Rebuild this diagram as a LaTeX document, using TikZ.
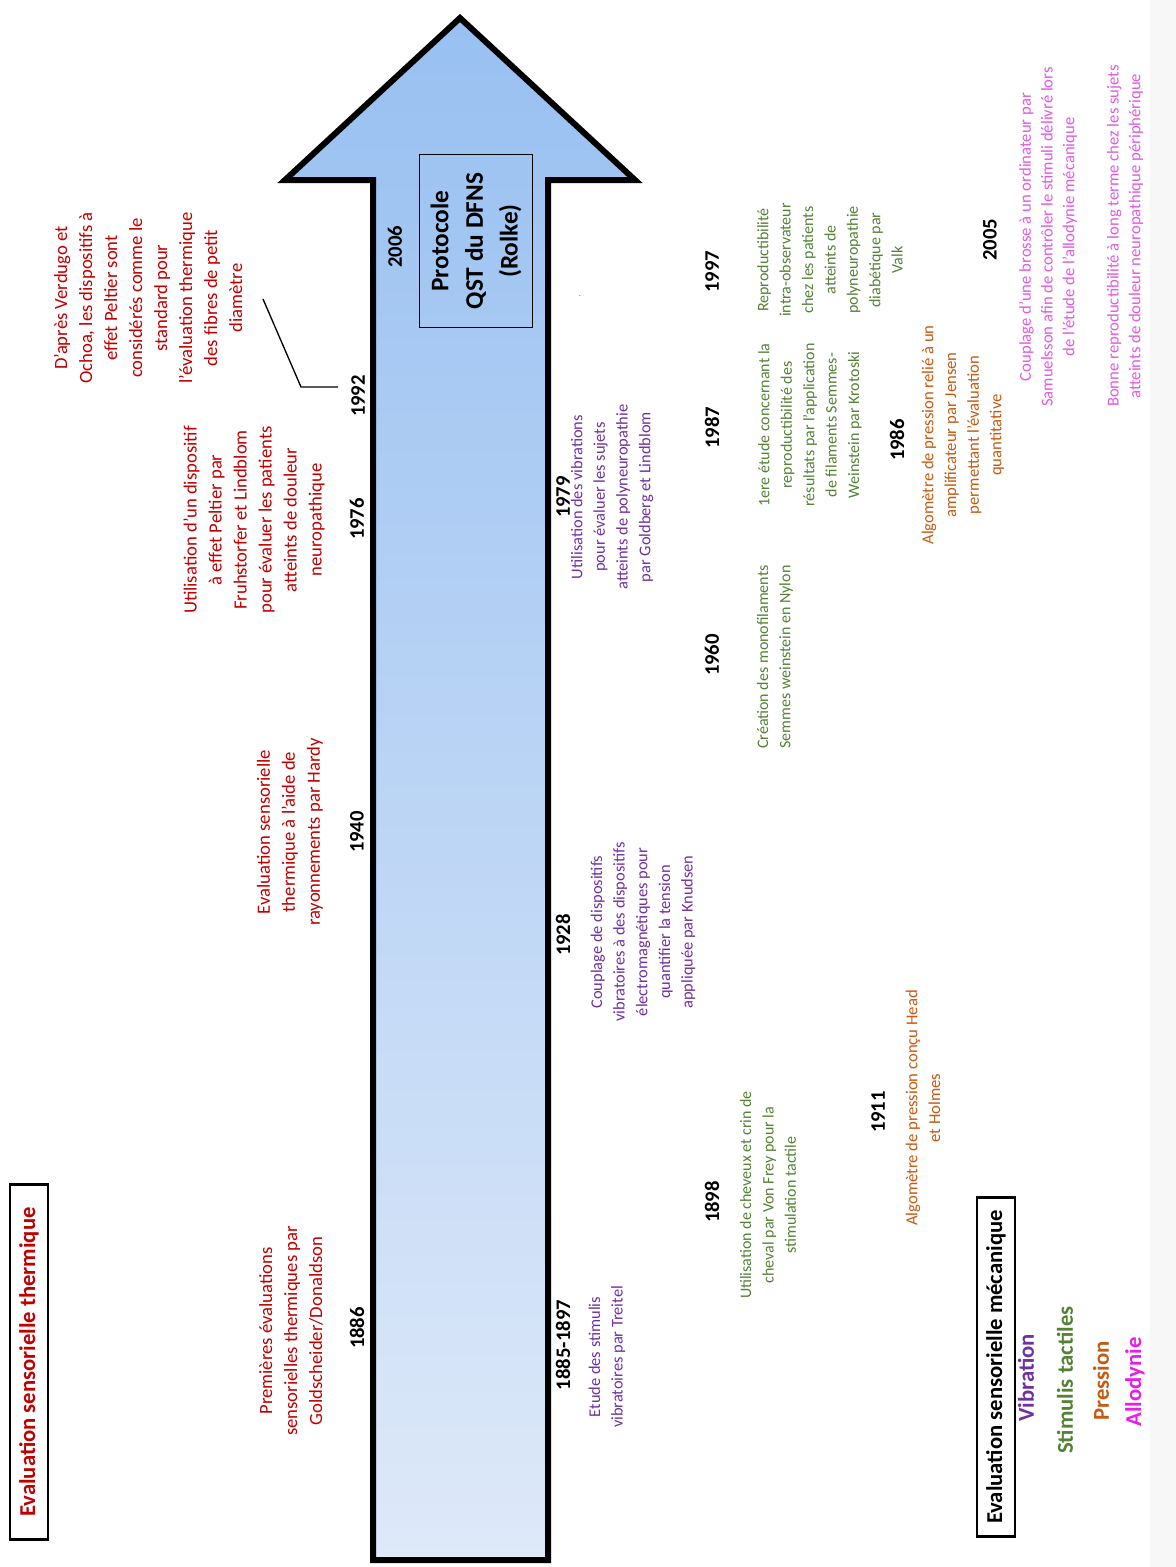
\documentclass[tikz,border=0pt]{standalone}
\usepackage{fontspec}
\setmainfont{Carlito}
\usepackage{xcolor}
\definecolor{thermred}{RGB}{192,0,0}
\definecolor{vibpurple}{RGB}{112,48,160}
\definecolor{tactgreen}{RGB}{84,130,53}
\definecolor{pressorange}{RGB}{197,90,17}
\definecolor{allomag}{RGB}{226,90,226}
\definecolor{allolegend}{RGB}{230,30,230}
\definecolor{arrtop}{RGB}{152,192,241}
\definecolor{arrbot}{RGB}{222,233,249}

\begin{document}
\begin{tikzpicture}[x=0.75pt,y=-0.75pt,
  yr/.style={rotate=90,inner sep=0pt,font=\fontsize{15.5}{18}\selectfont\bfseries},
  desc/.style={rotate=90,align=center,inner sep=0pt},
  thermtxt/.style={desc,text=thermred,font=\fontsize{14}{18.75}\selectfont},
  vibtxt/.style={desc,text=vibpurple,font=\fontsize{12.3}{17}\selectfont},
  tacttxt/.style={desc,text=tactgreen,font=\fontsize{12}{16.8}\selectfont},
  presstxt/.style={desc,text=pressorange,font=\fontsize{12.5}{17}\selectfont},
  allotxt/.style={desc,text=allomag,font=\fontsize{12.5}{16.3}\selectfont},
  titlebox/.style={draw,line width=1.8pt,rotate=90,inner sep=0pt,minimum height=28.5pt,font=\fontsize{17}{20}\selectfont\bfseries},
  legend/.style={rotate=90,inner sep=0pt,font=\fontsize{17}{20}\selectfont\bfseries}]
\useasboundingbox (0,0) rectangle (1176,1567);
\fill[white] (0,0) rectangle (1176,1567);
\fill[black!3] (1150,0) rectangle (1176,1567);

% Fleche du temps
\draw[line width=4.5pt,top color=arrtop,bottom color=arrbot]
  (373,1560) -- (373,180) -- (285,180) -- (460,18) -- (635,180)
  -- (548,180) -- (548,1560) -- cycle;
\node[draw,line width=1pt,rotate=90,align=center,minimum width=130pt,minimum height=85pt,
  font=\fontsize{19}{26}\selectfont\bfseries] (qst) at (476,241) {Protocole\\QST du DFNS\\(Rolke)};
\node[font=\tiny] (pt) at (580,296) {.};

% Evaluation thermique
\node[titlebox,text=thermred,minimum width=266pt] (therm) at (29,1362) {Evaluation sensorielle thermique};
\node[thermtxt] (prem) at (291,1331) {Premières évaluations\\sensorielles thermiques par\\Goldscheider/Donaldson};
\node[yr] (y1886) at (357,1328) {1886};
\node[thermtxt] (hardy) at (290,832) {Evaluation sensorielle\\thermique à l'aide de\\rayonnements par Hardy};
\node[yr] (y1940) at (357,832) {1940};
\node[thermtxt] (fruh) at (254,520) {Utilisation d’un dispositif\\à effet Peltier par\\Fruhstorfer et Lindblom\\pour évaluer les patients\\atteints de douleur\\neuropathique};
\node[yr] (y1976) at (357,519) {1976};
\node[thermtxt] (verdugo) at (148,298) {D’après Verdugo et\\Ochoa, les dispositifs à\\effet Peltier sont\\considérés comme le\\standard pour\\l’évaluation thermique\\des fibres de petit\\diamètre};
\node[yr] (y1992) at (358,396) {1992};
\node[yr] (y2006) at (395,247) {2006};
\coordinate (lka) at (263,299);
\coordinate (lkb) at (338,387);
\draw[line width=1pt] (lka) -- ++(38,88) -- (lkb);

% Vibration
\node[yr] (y1885) at (563,1345) {1885-1897};
\node[vibtxt] (treitel) at (607,1357) {Etude des stimulis\\vibratoires par Treitel};
\node[yr] (y1928) at (563,935) {1928};
\node[vibtxt] (knudsen) at (643,932) {Couplage de dispositifs\\vibratoires à des dispositifs\\électromagnétiques pour\\quantifier la tension\\appliquée par Knudsen};
\node[yr] (y1979) at (563,497) {1979};
\node[vibtxt] (goldberg) at (612,497) {Utilisation des vibrations\\pour évaluer les sujets\\atteints de polyneuropathie\\par Goldberg et Lindblom};

% Stimulis tactiles
\node[yr] (y1898) at (712,1202) {1898};
\node[tacttxt] (vonfrey) at (768,1195) {Utilisation de cheveux et crin de\\cheval par Von Frey pour la\\stimulation tactile};
\node[yr] (y1960) at (712,655) {1960};
\node[tacttxt] (nylon) at (775,657) {Création des monofilaments\\Semmes weinstein en Nylon};
\node[yr] (y1987) at (712,428) {1987};
\node[tacttxt] (krotoski) at (810,425) {1ere étude concernant la\\reproductibilité des\\résultats par l’application\\de filaments Semmes-\\Weinstein par Krotoski};
\node[yr] (y1997) at (712,272) {1997};
\node[tacttxt] (valk) at (830,260) {Reproductibilité\\intra-observateur\\chez les patients\\atteints de\\polyneuropathie\\diabétique par\\Valk};

% Pression
\node[yr] (y1911) at (878,1112) {1911};
\node[presstxt] (head) at (923,1108) {Algomètre de pression conçu Head\\et Holmes};
\node[yr] (y1986) at (897,440) {1986};
\node[presstxt] (jensen) at (963,435) {Algomètre de pression relié à un\\amplificateur par Jensen\\permettant l’évaluation\\quantitative};

% Allodynie
\node[yr] (y2005) at (990,240) {2005};
\node[allotxt] (samuel) at (1048,237) {Couplage d’une brosse à un ordinateur par\\Samuelsson afin de contrôler le stimuli délivré lors\\de l’étude de l’allodynie mécanique};
\node[allotxt] (bonne) at (1125,236) {Bonne reproductibilité à long terme chez les sujets\\atteints de douleur neuropathique périphérique};

% Legende
\node[titlebox,minimum width=254pt] (meca) at (996,1367) {Evaluation sensorielle mécanique};
\node[legend,text=vibpurple] (lvib) at (1026,1378) {Vibration};
\node[legend,text=tactgreen] (ltact) at (1065,1380) {Stimulis tactiles};
\node[legend,text=pressorange] (lpress) at (1101,1381) {Pression};
\node[legend,text=allolegend] (lallo) at (1135,1382) {Allodynie};
\end{tikzpicture}
\end{document}
